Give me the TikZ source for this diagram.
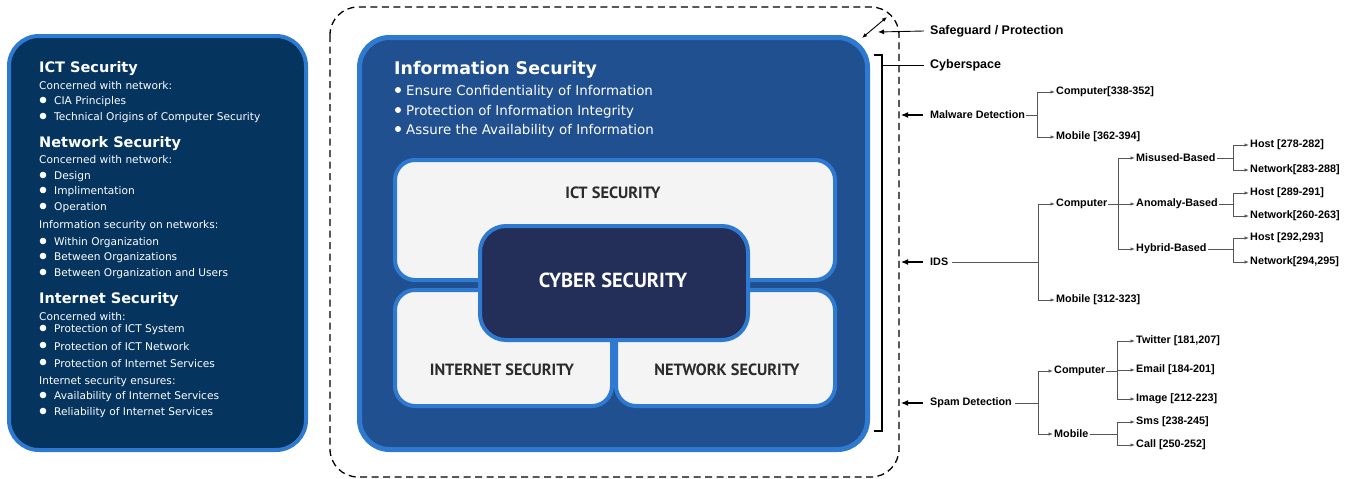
\documentclass[tikz,border=0pt]{standalone}
\usepackage{fontspec}
\setmainfont{DejaVu Sans}
\newfontfamily\treefont{Liberation Sans}
\newfontfamily\boxfont{PT Sans}
\usetikzlibrary{arrows.meta}

\definecolor{panelnavy}{HTML}{05345F}
\definecolor{edgeblue}{HTML}{2E7AD0}
\definecolor{infoblue}{HTML}{215091}
\definecolor{boxgray}{HTML}{F4F4F4}
\definecolor{cybernavy}{HTML}{232F59}
\definecolor{labelgray}{HTML}{2B2B2B}
\definecolor{linegray}{HTML}{555555}

\tikzset{
  panel/.style={draw=edgeblue, line width=4pt, fill=panelnavy, rounded corners=30pt},
  infobox/.style={draw=edgeblue, line width=5pt, fill=infoblue, rounded corners=30pt},
  lightbox/.style={draw=edgeblue, line width=4pt, fill=boxgray, rounded corners=20pt},
  cyberbox/.style={draw=edgeblue, line width=4pt, fill=cybernavy, rounded corners=26pt},
  head/.style={anchor=west, inner sep=0pt, yshift=-2.5pt, text=white, font=\bfseries\fontsize{14.5}{16}\selectfont},
  sub/.style={anchor=west, inner sep=0pt, yshift=-1.5pt, text=white, font=\fontsize{10.6}{12}\selectfont},
  infohead/.style={anchor=west, inner sep=0pt, yshift=-2.5pt, text=white, font=\bfseries\fontsize{17.4}{20}\selectfont},
  infoitem/.style={anchor=west, inner sep=0pt, yshift=-1.5pt, text=white, font=\fontsize{13.4}{15}\selectfont},
  boxlabel/.style={inner sep=0pt, text=labelgray, font=\boxfont\bfseries\fontsize{16.3}{18}\selectfont},
  treenode/.style={anchor=west, inner sep=1pt, text=black, font=\treefont\bfseries\fontsize{10.8}{12}\selectfont},
  toplabel/.style={treenode, font=\treefont\bfseries\fontsize{12.5}{14}\selectfont},
  branch/.style={draw=linegray, line width=0.8pt},
  twig/.style={branch, -{Latex[length=4.5pt,width=3.5pt]}},
  pointer/.style={draw=black, line width=1.1pt, -{Latex[length=7pt,width=6pt]}},
}

\begin{document}
\begin{tikzpicture}[x=1pt,y=-1pt]
\useasboundingbox (0,0) rectangle (1357,479);

% left panel
\draw[panel] (9,36) rectangle (306,450);
\node[head] (ict-head) at (39,66) {ICT Security};
\node[sub] (ict-sub) at (39,84) {Concerned with network:};
\node[head] (net-head) at (39,141) {Network Security};
\node[sub] (net-sub) at (39,158) {Concerned with network:};
\node[sub] (net-sub2) at (39,224) {Information security on networks:};
\node[head] (inet-head) at (39,297) {Internet Security};
\node[sub] (inet-sub) at (39,315) {Concerned with:};
\node[sub] (inet-sub2) at (39,380) {Internet security ensures:};
\foreach \y/\t in {100/CIA Principles,116/Technical Origins of Computer Security,
  175/Design,190/Implimentation,206/Operation,
  241/Within Organization,256/Between Organizations,272/Between Organization and Users,
  328/Protection of ICT System,345/Protection of ICT Network,362/Protection of Internet Services,
  395/Availability of Internet Services,411/Reliability of Internet Services}{
  \fill[white] (43,\y) circle (3.3pt);
  \node[sub] (item-\y) at (54,\y) {\t};
}

% protection boundary
\draw[black, line width=1.3pt, dash pattern=on 7pt off 4.5pt, rounded corners=28pt] (330,7) rectangle (899,477);

% information security
\draw[infobox] (359.5,37.5) rectangle (867.5,449.5);
\node[infohead] (info-head) at (394,67) {Information Security};
\foreach \y/\t in {90/Ensure Confidentiality of Information,110/Protection of Information Integrity,129/Assure the Availability of Information}{
  \fill[white] (398,\y) circle (3pt);
  \node[infoitem] (info-\y) at (406,\y) {\t};
}

% inner boxes
\draw[lightbox] (395,160) rectangle (835,280);
\draw[lightbox] (395,290) rectangle (612,406);
\draw[lightbox] (616,290) rectangle (835,406);
\draw[cyberbox] (480,226) rectangle (748,340);
\node[boxlabel] (ict-box) at (613,193) {ICT SECURITY};
\node[boxlabel] (inet-box) at (502,370) {INTERNET SECURITY};
\node[boxlabel] (net-box) at (727,370) {NETWORK SECURITY};
\node[boxlabel, text=white, font=\boxfont\bfseries\fontsize{20.4}{22}\selectfont] (cyber-box) at (613,280) {CYBER SECURITY};

% cyberspace bracket and top labels
\node[toplabel] (guard) at (929,31) {Safeguard / Protection};
\node[toplabel] (cyberspace) at (929,65) {Cyberspace};
\coordinate (guard-tip) at (878,32);
\draw[pointer, line width=0.9pt, -{Latex[length=6pt,width=5pt]}] ([xshift=-5pt]guard.west) -- (guard-tip);
\coordinate (dbl-a) at (862,38);
\coordinate (dbl-b) at (887,17);
\draw[line width=0.9pt, {Latex[length=5pt,width=4pt]}-{Latex[length=5pt,width=4pt]}] (dbl-a) -- (dbl-b);
\coordinate (brk-top) at (882,55);
\coordinate (brk-bot) at (882,431);
\draw[line width=1.5pt] (874,55) -- (brk-top) -- (brk-bot) -- (874,431);
\coordinate (brk-mid) at (882,65);
\draw[line width=0.9pt] (brk-mid) -- ([xshift=-5pt]cyberspace.west);

% malware detection
\node[treenode] (malware) at (929,115) {Malware Detection};
\coordinate (malware-in) at (901,115);
\draw[pointer] ([xshift=-6pt]malware.west) -- (malware-in);
\node[treenode] (mw-comp) at (1055,92) {Computer[338-352]};
\node[treenode] (mw-mob) at (1055,137) {Mobile [362-394]};
\coordinate (j-mw) at (1037,115);
\draw[branch] (malware.east) -- (j-mw);
\draw[twig] (j-mw) |- (mw-comp.west);
\draw[twig] (j-mw) |- (mw-mob.west);

% intrusion detection
\node[treenode] (ids) at (929,262) {IDS};
\coordinate (ids-in) at (901,262);
\draw[pointer] ([xshift=-6pt]ids.west) -- (ids-in);
\node[treenode] (ids-comp) at (1055,204) {Computer};
\node[treenode] (ids-mob) at (1055,300) {Mobile [312-323]};
\coordinate (j-ids) at (1038,262);
\draw[branch] ([xshift=3pt]ids.east) -- (j-ids);
\draw[twig] (j-ids) |- (ids-comp.west);
\draw[twig] (j-ids) |- (ids-mob.west);
\node[treenode] (misuse) at (1135,158) {Misused-Based};
\node[treenode] (anomaly) at (1135,204) {Anomaly-Based};
\node[treenode] (hybrid) at (1135,249) {Hybrid-Based};
\coordinate (j-comp) at (1118,204);
\draw[branch] (ids-comp.east) -- (j-comp);
\foreach \n in {misuse,anomaly,hybrid}
  \draw[twig] (j-comp) |- (\n.west);
\node[treenode] (mis-host) at (1249,145) {Host [278-282]};
\node[treenode] (mis-net) at (1249,170) {Network[283-288]};
\node[treenode] (ano-host) at (1249,193) {Host [289-291]};
\node[treenode] (ano-net) at (1249,216) {Network[260-263]};
\node[treenode] (hyb-host) at (1249,238) {Host [292,293]};
\node[treenode] (hyb-net) at (1249,262) {Network[294,295]};
\coordinate (j-mis) at (1233,158);
\coordinate (j-ano) at (1233,204);
\coordinate (j-hyb) at (1233,249);
\draw[branch] (misuse.east) -- (j-mis);
\draw[branch] (anomaly.east) -- (j-ano);
\draw[branch] (hybrid.east) -- (j-hyb);
\draw[twig] (j-mis) |- (mis-host.west);
\draw[twig] (j-mis) |- (mis-net.west);
\draw[twig] (j-ano) |- (ano-host.west);
\draw[twig] (j-ano) |- (ano-net.west);
\draw[twig] (j-hyb) |- (hyb-host.west);
\draw[twig] (j-hyb) |- (hyb-net.west);

% spam detection
\node[treenode] (spam) at (929,403) {Spam Detection};
\coordinate (spam-in) at (901,403);
\draw[pointer] ([xshift=-6pt]spam.west) -- (spam-in);
\node[treenode] (sp-comp) at (1053,371) {Computer};
\node[treenode] (sp-mob) at (1053,434) {Mobile};
\coordinate (j-spam) at (1038,403);
\draw[branch] ([xshift=2pt]spam.east) -- (j-spam);
\draw[twig] (j-spam) |- (sp-comp.west);
\draw[twig] (j-spam) |- (sp-mob.west);
\node[treenode] (twitter) at (1135,341) {Twitter [181,207]};
\node[treenode] (email) at (1135,370) {Email [184-201]};
\node[treenode] (image) at (1135,399) {Image [212-223]};
\node[treenode] (sms) at (1135,422) {Sms [238-245]};
\node[treenode] (call) at (1135,445) {Call [250-252]};
\coordinate (j-spcomp) at (1117,371);
\coordinate (j-spmob) at (1117,434);
\draw[branch] (sp-comp.east) -- (j-spcomp);
\draw[branch] (sp-mob.east) -- (j-spmob);
\foreach \n in {twitter,email,image}
  \draw[twig] (j-spcomp) |- (\n.west);
\foreach \n in {sms,call}
  \draw[twig] (j-spmob) |- (\n.west);

\end{tikzpicture}
\end{document}
